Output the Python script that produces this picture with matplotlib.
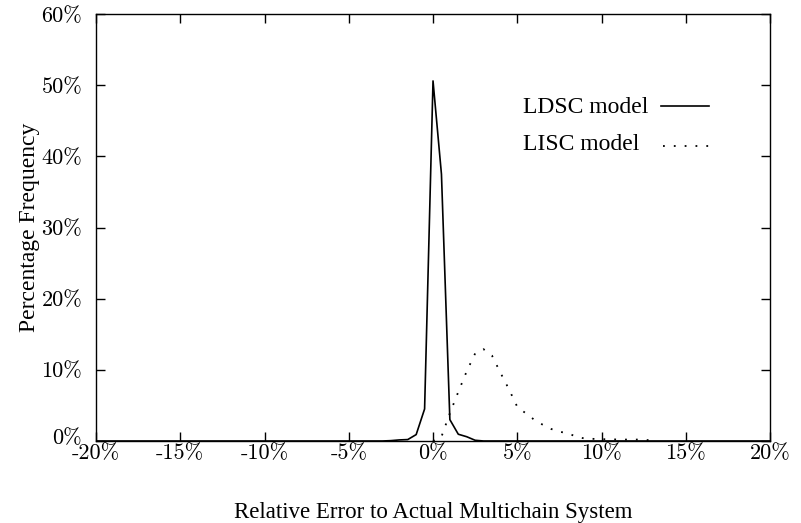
import matplotlib.pyplot as plt
from matplotlib.transforms import ScaledTranslation

# LDSC model: percentage frequency vs relative error (%)
ldsc_x = [-20, -3, -2.5, -2, -1.5, -1, -0.5, 0, 0.5, 1, 1.5, 2, 2.5, 3, 20]
ldsc_y = [0, 0, 0.05, 0.15, 0.2, 0.9, 4.5, 50.6, 37.5, 3.0, 0.95, 0.6, 0.1, 0, 0]

# LISC model
lisc_x = [0, 0.5, 1, 1.5, 2, 2.5, 3, 3.5, 4, 4.5, 5, 5.5, 6, 6.5, 7, 7.5,
          8, 8.5, 9, 9.5, 10, 10.5, 11, 11.5, 12, 12.5, 13]
lisc_y = [0, 0.6, 3.9, 6.9, 9.8, 12.3, 12.9, 12.0, 9.6, 7.3, 4.8, 3.9, 3.0,
          2.3, 1.7, 1.3, 1.1, 0.6, 0.35, 0.3, 0.25, 0.25, 0.2, 0.2, 0.2, 0.2, 0.05]

xticks = [-20, -15, -10, -5, 0, 5, 10, 15, 20]
yticks = [0, 10, 20, 30, 40, 50, 60]

W, H = 801, 523
fig = plt.figure(figsize=(W / 100, H / 100), dpi=100)
ax = fig.add_axes([0.1199, 0.1568, 0.8414, 0.8164])

ldsc_style = dict(color='black', lw=1.2)
lisc_style = dict(color='black', lw=1.3, linestyle=(0, (1, 5)))
ax.plot(ldsc_x, ldsc_y, **ldsc_style)
ax.plot(lisc_x, lisc_y, **lisc_style)

ax.set_xlim(-20, 20)
ax.set_ylim(0, 60)
ax.set_xticks(xticks)
ax.set_yticks(yticks)
tickfont = dict(family='cmr10', size=16)
ax.set_xticklabels(['%d%%' % v for v in xticks], **tickfont)
ax.set_yticklabels(['%d%%' % v for v in yticks], **tickfont)
ax.tick_params(direction='in', length=6.5, width=1, top=True, right=True)
ax.tick_params(axis='y', pad=10)
ax.tick_params(axis='x', pad=2)
for s in ax.spines.values():
    s.set_linewidth(1)
# nudge the 0% label up a little, like the original
lab0 = ax.get_yticklabels()[0]
lab0.set_transform(lab0.get_transform() + ScaledTranslation(0, 3 / 72, fig.dpi_scale_trans))

ax.set_xlabel('Relative Error to Actual Multichain System', labelpad=28,
              family='Liberation Serif', size=16.5)
ax.set_ylabel('Percentage Frequency', labelpad=1,
              family='Liberation Serif', size=17)

# gnuplot-style key: text then sample line to its right
keyfont = dict(family='Liberation Serif', size=17)
fig.text(523 / W, 1 - 113 / H, 'LDSC model', ha='left', va='baseline', **keyfont)
fig.text(523 / W, 1 - 150 / H, 'LISC model', ha='left', va='baseline', **keyfont)
fig.add_artist(plt.Line2D([661 / W, 709 / W], [1 - 106 / H] * 2, **ldsc_style))
fig.add_artist(plt.Line2D([663 / W, 709 / W], [1 - 146 / H] * 2, **lisc_style))

plt.savefig('out.png', dpi=100)
